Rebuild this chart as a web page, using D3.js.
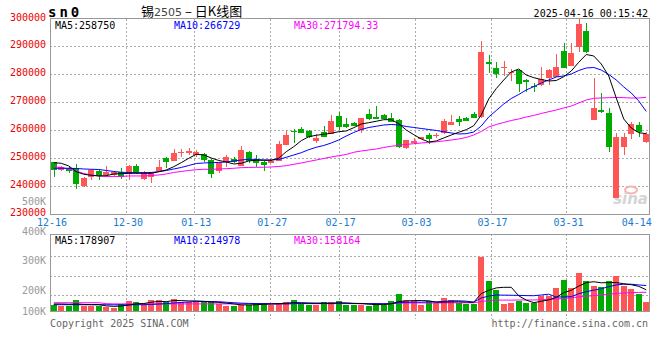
<!DOCTYPE html>
<html><head><meta charset="utf-8">
<script src="https://cdn.jsdelivr.net/npm/d3@7"></script>
<style>body{margin:0;background:#fff}svg{display:block}</style>
</head><body>
<svg id="c" width="660" height="360"></svg>
<script>
// ---------------- data ----------------
const dates = ["12-16","12-17","12-18","12-19","12-20","12-23","12-24","12-25","12-26","12-27","12-30","12-31",
"01-02","01-03","01-06","01-07","01-08","01-09","01-10","01-13","01-14","01-15","01-16","01-17","01-20","01-21","01-22","01-23","01-24","01-27",
"02-05","02-06","02-07","02-10","02-11","02-12","02-13","02-14","02-17","02-18","02-19","02-20","02-21","02-24","02-25","02-26","02-27","02-28",
"03-03","03-04","03-05","03-06","03-07","03-10","03-11","03-12","03-13","03-14","03-17","03-18","03-19","03-20","03-21","03-24","03-25","03-26","03-27","03-28","03-31",
"04-01","04-02","04-03","04-07","04-08","04-09","04-10","04-11","04-14","04-15","04-16"];
const open = [248520,245760,246370,246480,240040,243360,245510,243790,244080,244980,244440,247200,242650,243150,245230,250060,249060,251740,251850,251030,
251490,249340,245510,248630,249700,247200,252310,249340,248730,248380,249090,254710,259830,260370,259730,256150,259260,258650,264990,262230,
262700,260080,265810,264630,265450,264490,263660,253530,255320,256860,258400,258040,258900,261870,264130,264490,265810,264630,284530,282390,
282170,280600,281560,277980,275940,276190,278590,279160,288370,283100,289900,295530,263770,267140,266280,235850,254100,258760,261870,255890];
const high = [248730,247200,246660,247910,243080,246120,245760,247200,245410,246410,247550,247910,245230,245050,249340,250240,253280,253390,253750,252920,
251670,249700,248630,251130,250420,254360,252570,251130,248990,249340,256250,260080,260330,261260,259900,258540,261620,265350,266600,264270,
262950,264380,267490,268680,265630,266280,263840,256500,257110,257580,259120,259120,263910,265450,265100,264740,266630,292050,286930,284530,
284790,281920,281740,278160,276800,282740,281740,287180,291120,291120,299950,298280,278590,273440,267850,258900,259080,262840,262840,259470];
const low = [243360,245510,244690,238960,239500,242080,242000,243620,243620,242540,242000,244330,242180,241000,245050,246480,248810,250310,251130,250420,
248630,242790,244580,246940,248270,247020,248380,246730,245510,248090,248810,254530,255540,258830,257110,255540,257400,258470,260080,260800,
261340,259120,263770,263840,263840,262950,253530,253350,255180,256680,255070,257110,258720,261690,261520,263310,264380,264450,280380,278590,
279520,277630,273790,273790,273580,276010,276190,279060,282280,283000,287900,287720,263660,266240,252100,235740,251130,256860,257680,255540];
const close = [245660,246940,245510,240570,242900,245760,243440,245150,245050,243360,247270,244580,244980,244800,246840,248450,251850,252210,252460,252140,
249340,244330,248380,250310,248630,252920,248990,248380,247550,249090,255070,258290,259650,259120,257680,257330,257680,263310,260980,261050,
261520,264270,263950,264020,264020,263050,254100,256400,256250,257400,256860,258290,263410,263050,263050,263410,264490,288110,283530,280020,
282530,280950,276550,277160,275370,278340,281560,282740,282390,287540,297920,287900,267850,266420,254000,257580,257580,262230,259260,258650];
const ma5 = [248380,248160,247200,245150,244220,243870,243620,243720,244330,244440,244580,244580,244580,244580,245150,245760,246940,248380,249950,251380,
251130,250060,249160,248630,247910,248160,248990,249240,249240,249240,249950,252310,254100,256250,257680,258190,258540,258900,259470,259730,
260910,262230,262700,263200,263770,263770,262340,260080,258400,256860,255790,256150,257220,258290,259260,260190,261620,265450,271180,274900,
277980,280850,281920,279770,278810,278160,277630,277800,279160,281210,284320,287110,286580,283710,279420,271540,264020,260800,259120,258750];
const ma10 = [246370,246370,246370,246300,246120,246010,245940,245580,245230,244940,244870,244800,244800,244870,245150,245580,246120,246660,247370,248090,
248270,248380,248450,248630,248990,249340,249590,249520,249340,249340,249520,250310,251130,251950,253030,253890,254530,255430,256500,257930,
259190,260260,260980,261410,261870,262050,261870,261340,260980,260620,260260,259900,259470,259010,258650,258760,259360,261520,264740,267060,
269390,271360,272790,274400,275590,276910,277980,279060,279420,280130,281380,282280,282460,281560,279950,277980,275480,273330,270470,266729];
const ma30 = [246940,246660,246120,245410,244510,243970,243620,243440,243440,243440,243620,243620,243620,243790,243970,244330,244870,245230,245580,245870,
246010,246010,246120,246230,246370,246590,246660,246730,246730,246840,247020,247300,247800,248270,248810,249340,249880,250420,250880,251310,
252100,252560,252920,253280,253820,254250,254610,254900,255180,255430,255610,255860,256150,256500,256860,257400,258290,259550,261160,262050,
262770,263480,264020,264740,265280,265990,266630,267240,267960,268680,269750,270820,271430,271540,271650,271720,271650,271540,271540,271794.33];
const volume = [53200,44700,44700,92900,44700,44700,44700,36300,25300,59100,84400,76000,56600,92900,92900,76000,101300,76000,76000,76000,
76000,76000,59100,44700,44700,53200,53200,67500,67500,53200,67500,76000,92900,61600,53200,53200,76000,76000,84400,53200,
53200,53200,44700,67500,53200,87000,143500,95400,87000,53200,81900,67500,109700,95400,67500,59100,59100,455900,255800,179800,
59100,67500,87000,67500,67500,124100,124100,194200,264200,194200,320800,255800,213600,202600,250700,298000,213600,185700,146000,76000];
const volMa5 = [59000,59000,57000,59000,56000,54000,54000,43000,39000,42000,50000,61000,63000,74000,81000,79000,88000,88000,85000,85000,
81000,76000,73000,66000,60000,52000,51000,53000,57000,59000,62000,66000,71000,70000,68000,67000,67000,64000,68000,68000,
64000,64000,58000,54000,54000,61000,80000,85000,88000,88000,86000,74000,75000,77000,78000,75000,74000,147000,175000,195000,
200000,200000,128000,92000,70000,82000,94000,115000,155000,175000,210000,240000,247000,238000,240000,240000,230000,222000,208000,178907];
const volMa10 = [53000,53000,53000,53000,53000,53000,53000,53000,52000,52000,52000,53000,53000,55000,59000,62000,68000,72000,76000,80000,
81000,80000,78000,74000,70000,66000,64000,63000,62000,60000,60000,60000,62000,64000,63000,63000,64000,66000,67000,65000,
64000,62000,61000,62000,61000,62000,70000,73000,75000,74000,77000,77000,81000,86000,86000,83000,75000,110000,126000,135000,
134000,133000,132000,130000,129000,135000,142000,118000,119000,121000,146000,163000,176000,188000,205000,220000,226000,226000,220000,214978];
const volMa30 = [70000,70000,70000,70000,70000,70000,70000,62000,60000,60000,60000,60000,60000,60000,60000,60000,60000,60000,60000,60000,
60000,60000,60000,60000,60000,60000,60000,60000,60000,62000,62000,62000,62000,62000,62000,62000,62000,62000,62000,62000,
62000,62000,62000,62000,62000,62000,66000,67000,68000,68000,68000,68000,68000,69000,69000,69000,69000,80000,88000,92000,
92000,92000,93000,93000,93000,95000,97000,101000,107000,111000,119000,125000,130000,135000,141000,148000,152000,155000,157000,158164];
const priceTicks = [300000,290000,280000,270000,260000,250000,240000,230000];
const volTicks = [500000,400000,300000,200000,100000];
const volTickLabels = ["500K","400K","300K","200K","100K"];
const dateTicks = ["12-16","12-30","01-13","01-27","02-17","03-03","03-17","03-31","04-14"];
const maLabels = ["MA5:258750","MA10:266729","MA30:271794.33"];
const volMaLabels = ["MA5:178907","MA10:214978","MA30:158164"];

// ---------------- drawing ----------------
const svg = d3.select("#c");
const L = 50, R = 650, PT = 18.5, PB = 214, VT = 234, VB = 311;
const RED = "#ff5555", GREEN = "#00aa00", MONO = "'DejaVu Sans Mono', monospace";
const idx = d3.range(dates.length);
const x = d3.scaleBand().domain(idx).range([L, R]).paddingInner(0.25).paddingOuter(0.125);
const xg = d3.scaleLinear().domain([0, dates.length - 1]).range([L, R]);
const y = d3.scaleLinear().domain([230000, 300000]).range([PB, PT]);
const yv = d3.scaleLinear().domain([0, 650000]).range([VB, VT]);
const yvl = d3.scaleLinear().domain([100000, 500000]).range([319.5, 201.5]);
const vgrid = d3.scaleLinear().domain([0, 2]).range([256, 295]);
const cx = i => x(i) + x.bandwidth() / 2;
const col = i => close[i] >= open[i] ? RED : GREEN;

// grid
const grid = svg.append("g").attr("stroke", "#aaa").attr("stroke-dasharray", "2,2").attr("shape-rendering", "crispEdges");
priceTicks.slice(1, -1).forEach(p => grid.append("line").attr("x1", L).attr("x2", R).attr("y1", Math.round(y(p)) + .5).attr("y2", Math.round(y(p)) + .5));
[0, 1, 2].forEach(k => { const yy = Math.round(vgrid(k)) + .5; grid.append("line").attr("x1", L).attr("x2", R).attr("y1", yy).attr("y2", yy); });
dateTicks.forEach(d => {
  const i = dates.indexOf(d);
  if (i <= 0 || i >= dates.length - 5) return;
  const xx = Math.round(xg(i)) + .5;
  grid.append("line").attr("x1", xx).attr("x2", xx).attr("y1", PT).attr("y2", PB);
  grid.append("line").attr("x1", xx).attr("x2", xx).attr("y1", VT).attr("y2", VB + 8);
});

// frames
svg.append("rect").attr("x", L + .5).attr("y", PT - .5).attr("width", R - L - 1).attr("height", PB - PT + .5)
  .attr("fill", "none").attr("stroke", "#999").attr("shape-rendering", "crispEdges");
svg.append("rect").attr("x", L + .5).attr("y", VT + .5).attr("width", R - L - 1).attr("height", VB - VT)
  .attr("fill", "none").attr("stroke", "#999").attr("shape-rendering", "crispEdges");

// watermark
const wm = svg.append("g");
wm.append("ellipse").attr("cx", 631).attr("cy", 190).attr("rx", 6).attr("ry", 3.5).attr("fill", "none").attr("stroke", "#f3b3b3").attr("stroke-width", 2);
wm.append("text").attr("x", 648).attr("y", 204).attr("text-anchor", "end").attr("font-family", "'DejaVu Sans', sans-serif")
  .attr("font-size", 15).attr("font-weight", "bold").attr("font-style", "italic").attr("fill", "#d4d4d4").text("sina");

// candles
const cg = svg.append("g").attr("shape-rendering", "crispEdges");
idx.forEach(i => {
  const c = col(i);
  cg.append("line").attr("x1", Math.round(cx(i)) + .5).attr("x2", Math.round(cx(i)) + .5)
    .attr("y1", y(high[i])).attr("y2", y(low[i])).attr("stroke", c);
  const top = y(Math.max(open[i], close[i])), bot = y(Math.min(open[i], close[i]));
  cg.append("rect").attr("x", x(i)).attr("width", x.bandwidth()).attr("y", top).attr("height", Math.max(1, bot - top)).attr("fill", c);
});
// volume bars
idx.forEach(i => {
  cg.append("rect").attr("x", x(i)).attr("width", x.bandwidth()).attr("y", yv(volume[i])).attr("height", VB - yv(volume[i])).attr("fill", col(i));
});

// MA lines
const lineP = arr => d3.line().x((d, i) => cx(i)).y(d => y(d))(arr);
const lineV = arr => d3.line().x((d, i) => cx(i)).y(d => yv(d))(arr);
[[ma30, "#ff00ff"], [ma10, "#0000ff"], [ma5, "#000"]].forEach(([a, c]) =>
  svg.append("path").attr("d", lineP(a)).attr("fill", "none").attr("stroke", c).attr("stroke-width", 1));
[[volMa30, "#ff00ff"], [volMa10, "#0000ff"], [volMa5, "#000"]].forEach(([a, c]) =>
  svg.append("path").attr("d", lineV(a)).attr("fill", "none").attr("stroke", c).attr("stroke-width", 1));

// texts
const T = (xx, yy, s, fill, size, anchor) => svg.append("text").attr("x", xx).attr("y", yy).attr("fill", fill)
  .attr("font-family", MONO).attr("font-size", size || 10).attr("text-anchor", anchor || "start").text(s);
priceTicks.forEach(p => T(46, y(p) + 2, String(p), "#ee0000", 10, "end"));
volTicks.forEach((v, k) => T(46, Math.min(311, yvl(v)) + 3.5, volTickLabels[k], "#999", 10, "end"));
dateTicks.forEach(d => T(xg(dates.indexOf(d)) + 2, 226, d, "#1a7ad0", 10, "middle"));
const maCols = ["#000", "#0000ff", "#ff00ff"], maX = [55, 174, 294];
maLabels.forEach((s, k) => T(maX[k], 29, s, maCols[k], 10));
volMaLabels.forEach((s, k) => T(maX[k], 244, s, maCols[k], 10));
T(648, 17, "2025-04-16 00:15:42", "#000", 10, "end");
T(50, 327, "Copyright 2025 SINA.COM", "#666", 10);
T(648, 327, "http://finance.sina.com.cn", "#666", 10, "end");
svg.append("text").attr("x", 48).attr("y", 17).attr("font-family", MONO).attr("font-weight", "bold")
  .attr("font-size", 14).attr("letter-spacing", 3).attr("fill", "#000").text("sn0");
const tt = svg.append("text").attr("x", 141).attr("y", 16).attr("fill", "#000").attr("font-size", 13)
  .attr("font-family", "'Noto Sans CJK SC', sans-serif");
tt.append("tspan").text("锡");
tt.append("tspan").attr("font-family", "'DejaVu Sans', sans-serif").attr("font-size", 11).attr("fill", "#444").text("2505");
tt.append("tspan").text(" – 日K线图");
</script>
</body></html>
